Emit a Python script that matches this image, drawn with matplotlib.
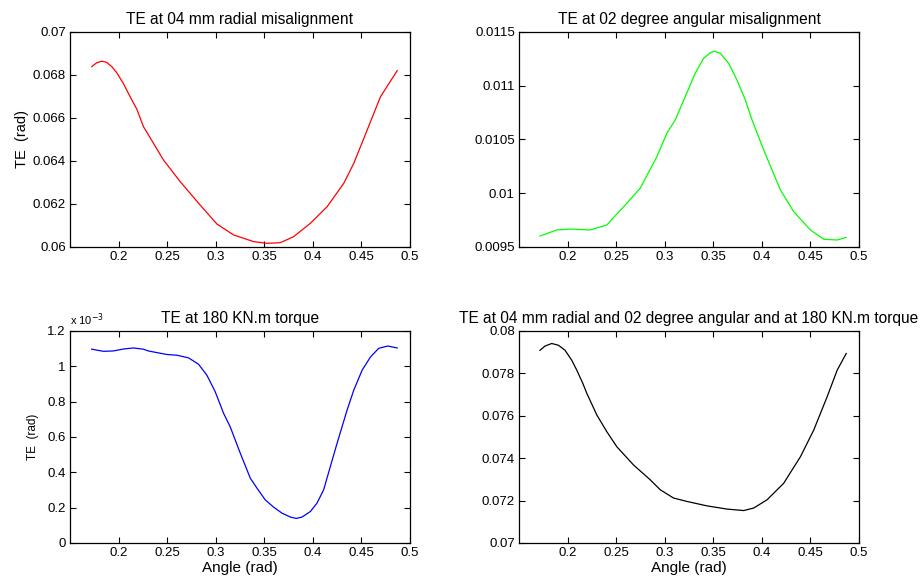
import numpy as np
import matplotlib.pyplot as plt
from matplotlib.ticker import FuncFormatter

plt.rcParams['font.family'] = ['Liberation Sans', 'DejaVu Sans']

# TE at 04 mm radial misalignment
x_rad = [0.1724, 0.1775, 0.1827, 0.1878, 0.1930, 0.1981, 0.2049, 0.2119, 0.2188, 0.2256,
         0.2462, 0.2634, 0.2840, 0.3012, 0.3184, 0.3390, 0.3528, 0.3665, 0.3802, 0.3974,
         0.4146, 0.4318, 0.4421, 0.4559, 0.4696, 0.4868]
te_rad = [0.06839, 0.06857, 0.06864, 0.06859, 0.06839, 0.06811, 0.06761, 0.06699, 0.06641, 0.06560,
          0.06405, 0.06304, 0.06195, 0.06107, 0.06056, 0.06025, 0.06017, 0.06020, 0.06048, 0.06110,
          0.06187, 0.06296, 0.06389, 0.06544, 0.06699, 0.06820]

# TE at 02 degree angular misalignment
x_ang = [0.1716, 0.1888, 0.2026, 0.2232, 0.2404, 0.2610, 0.2747, 0.2919, 0.3022, 0.3108,
         0.3211, 0.3314, 0.3400, 0.3469, 0.3513, 0.3572, 0.3658, 0.3744, 0.3830, 0.3899,
         0.4019, 0.4191, 0.4328, 0.4500, 0.4638, 0.4775, 0.4868]
te_ang = [0.009602, 0.009658, 0.009667, 0.009658, 0.009705, 0.009907, 0.010046, 0.010340, 0.010558, 0.010681,
          0.010898, 0.011116, 0.011255, 0.011307, 0.011321, 0.011302, 0.011209, 0.011053, 0.010867, 0.010681,
          0.010402, 0.010030, 0.009828, 0.009658, 0.009572, 0.009565, 0.009590]

# TE at 180 KN.m torque (values in 1e-3 rad)
x_tq = [0.1723, 0.1844, 0.1947, 0.2050, 0.2153, 0.2256, 0.2307, 0.2497, 0.2600, 0.2720,
        0.2823, 0.2909, 0.2995, 0.3081, 0.3149, 0.3253, 0.3356, 0.3425, 0.3510, 0.3596,
        0.3682, 0.3768, 0.3830, 0.3889, 0.3974, 0.4043, 0.4111, 0.4170, 0.4249, 0.4352,
        0.4421, 0.4507, 0.4593, 0.4678, 0.4771, 0.4868]
te_tq = [1.097, 1.085, 1.087, 1.098, 1.104, 1.097, 1.087, 1.067, 1.063, 1.048,
         1.012, 0.950, 0.856, 0.734, 0.658, 0.508, 0.367, 0.310, 0.244, 0.203,
         0.169, 0.147, 0.139, 0.147, 0.178, 0.226, 0.301, 0.414, 0.564, 0.752,
         0.865, 0.978, 1.053, 1.102, 1.115, 1.104]

# TE combined
x_all = [0.1716, 0.1768, 0.1837, 0.1905, 0.1974, 0.2043, 0.2095, 0.2157, 0.2198, 0.2301,
         0.2404, 0.2507, 0.2679, 0.2851, 0.2954, 0.3091, 0.3229, 0.3436, 0.3641, 0.3813,
         0.3916, 0.4054, 0.4225, 0.4397, 0.4534, 0.4672, 0.4775, 0.4868]
te_all = [0.07909, 0.07929, 0.07941, 0.07933, 0.07909, 0.07862, 0.07815, 0.07753, 0.07706, 0.07604,
          0.07525, 0.07454, 0.07368, 0.07298, 0.07251, 0.07212, 0.07196, 0.07175, 0.07160, 0.07153,
          0.07165, 0.07204, 0.07282, 0.07407, 0.07533, 0.07690, 0.07815, 0.07894]

xticks = [0.2, 0.25, 0.3, 0.35, 0.4, 0.45, 0.5]

fig = plt.figure(figsize=(9.22, 5.85), dpi=100)

ax1 = fig.add_axes([0.0759, 0.5778, 0.3688, 0.3675])
ax2 = fig.add_axes([0.5629, 0.5778, 0.3688, 0.3675])
ax3 = fig.add_axes([0.0759, 0.0718, 0.3688, 0.3624])
ax4 = fig.add_axes([0.5629, 0.0718, 0.3688, 0.3624])

fmt = FuncFormatter(lambda v, p: '%g' % round(v, 6))


def estilo(ax, ylim, yticks):
    ax.set_xlim(0.15, 0.5)
    ax.set_ylim(*ylim)
    ax.set_xticks(xticks)
    ax.set_yticks(yticks)
    ax.xaxis.set_major_formatter(fmt)
    ax.yaxis.set_major_formatter(fmt)
    ax.tick_params(direction='in', length=4, width=0.8, top=True, right=True,
                   labelsize=9.5, pad=3, colors='black')
    for s in ax.spines.values():
        s.set_linewidth(0.9)


ax1.plot(x_rad, te_rad, color='red', lw=0.9)
estilo(ax1, (0.06, 0.07), [0.06, 0.062, 0.064, 0.066, 0.068, 0.07])
ax1.set_title('TE at 04 mm radial misalignment', fontsize=11.2, pad=6)
ax1.set_ylabel('TE  (rad)', fontsize=10.5, labelpad=3)

ax2.plot(x_ang, te_ang, color='#00ff00', lw=0.9)
estilo(ax2, (0.0095, 0.0115), [0.0095, 0.01, 0.0105, 0.011, 0.0115])
ax2.set_title('TE at 02 degree angular misalignment', fontsize=11.2, pad=6)

ax3.plot(x_tq, te_tq, color='blue', lw=0.9)
estilo(ax3, (0, 1.2), [0, 0.2, 0.4, 0.6, 0.8, 1, 1.2])
ax3.set_title('TE at 180 KN.m torque', fontsize=11.2, pad=6)
ax3.set_ylabel('TE  (rad)', fontsize=8.5, labelpad=6)
ax3.set_xlabel('Angle (rad)', fontsize=11, labelpad=1)
ax3.text(0, 1.015, 'x 10$^{-3}$', transform=ax3.transAxes, fontsize=8, va='bottom')

ax4.plot(x_all, te_all, color='black', lw=0.9)
estilo(ax4, (0.07, 0.08), [0.07, 0.072, 0.074, 0.076, 0.078, 0.08])
ax4.set_title('TE at 04 mm radial and 02 degree angular and at 180 KN.m torque', fontsize=11.2, pad=6)
ax4.set_xlabel('Angle (rad)', fontsize=11, labelpad=1)

fig.savefig('out.png', dpi=100)
